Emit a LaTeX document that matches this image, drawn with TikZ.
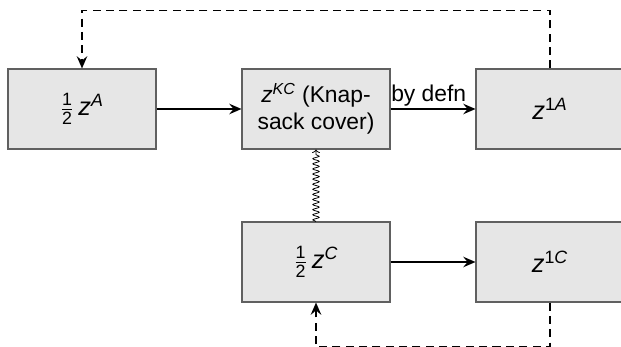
\documentclass[tikz,border=0pt]{standalone}
\usepackage{amsmath}
\usepackage{fontspec}
\setmainfont{Liberation Sans}
\usetikzlibrary{arrows.meta,decorations.pathmorphing}
\definecolor{boxfill}{HTML}{E6E6E6}
\definecolor{boxline}{HTML}{606060}

\begin{document}
\begin{tikzpicture}[x=0.02cm,y=-0.02cm,
    font=\fontsize{13}{15.5}\selectfont,
    blk/.style={draw=boxline,fill=boxfill,line width=0.6pt,minimum width=2.96cm,minimum height=1.6cm,align=center,inner sep=0pt},
    big/.style={font=\fontsize{14.5}{17}\selectfont},
    arr/.style={-{Stealth[length=7pt,width=6pt,inset=2.5pt]},line width=0.9pt},
    fb/.style={arr,line width=1.1pt,dash pattern=on 4.6pt off 3pt},
    wavy/.style={-{To[length=2pt,width=4.5pt]},line width=0.45pt,decorate,decoration={snake,amplitude=1.8pt,segment length=2.9pt,post length=1.5pt}}]
		\clip (0,0) rectangle (621,347);
		\node[blk,big] (hA) at (82,109) {$\frac{\text{1}}{\text{2}}\,\textit{z}^{\textit{A}}$};
		\node[blk] (zKC) at (316,109) {$\textit{z}^{\textit{KC}}$ (Knap-\\sack cover)};
		\node[blk,big] (z1A) at (550,109) {$\textit{z}^{\text{1}\textit{A}}$};
		\node[blk,big] (hC) at (316,262) {$\frac{\text{1}}{\text{2}}\,\textit{z}^{\textit{C}}$};
		\node[blk,big] (z1C) at (550,262) {$\textit{z}^{\text{1}\textit{C}}$};
		
		\draw[arr] (hA)--(zKC);
		\draw[arr] (zKC)-- node[above,pos=0.45,inner sep=1pt] {by defn} (z1A);
		\draw[arr] (hC)--(z1C);
		\draw[wavy] (hC.north)--(zKC.south);
		\draw[fb] (z1A.north)--++(0,-58)-|(hA.north);
		\draw[fb] (z1C.south)--++(0,44)-|(hC.south);
\end{tikzpicture}
\end{document}
